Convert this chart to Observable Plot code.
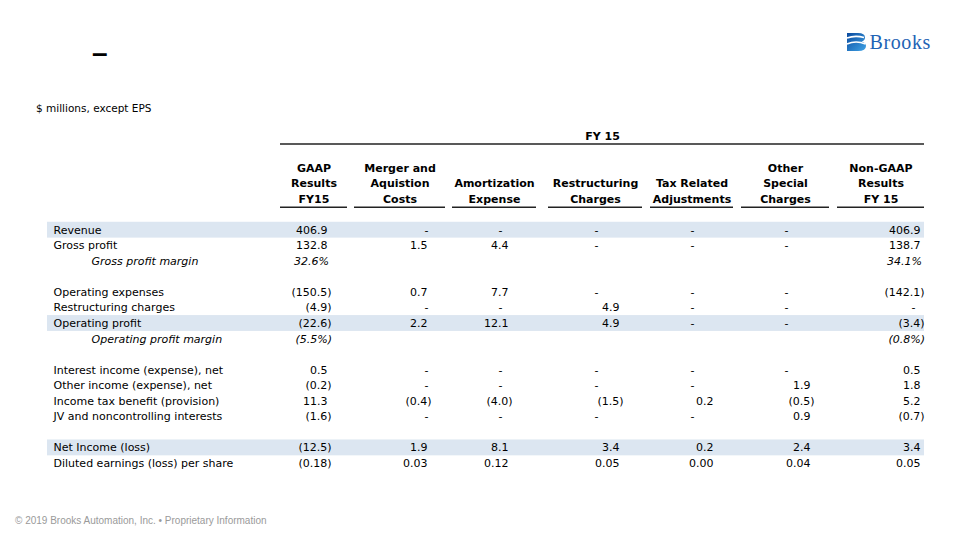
<!DOCTYPE html>
<html><head><meta charset="utf-8">
<script src="https://cdn.jsdelivr.net/npm/d3@7"></script>
<script src="https://cdn.jsdelivr.net/npm/@observablehq/plot@0.6"></script>
<style>
html,body{margin:0;padding:0;background:#fff;}
#page{position:relative;width:960px;height:540px;overflow:hidden;font-family:"DejaVu Sans",sans-serif;}
#chart{position:absolute;left:0;top:0;}
.title{position:absolute;left:92px;top:38px;font:bold 28px "Liberation Sans",Arial,sans-serif;color:#000;line-height:30px;}
.subtitle{position:absolute;left:36px;top:101px;font:10.5px "DejaVu Sans",sans-serif;color:#000;line-height:14px;}
.footer{position:absolute;left:15px;top:514px;font:10px "Liberation Sans",Arial,sans-serif;color:#9a9a9a;line-height:14px;}
.logo{position:absolute;left:846px;top:30px;}
</style></head>
<body><div id="page">
<div id="chart"></div>
<div class="title">–</div>
<div class="subtitle">$ millions, except EPS</div>
<div class="logo">
<svg width="90" height="24" viewBox="0 0 90 24">
<defs><linearGradient id="lg" x1="0" y1="0" x2="1" y2="1"><stop offset="0" stop-color="#0b4a9e"/><stop offset="1" stop-color="#3fa3e6"/></linearGradient></defs>
<path d="M1,3 H12 Q19,3 19,7.5 Q19,10.5 15.5,11.5 Q20,12.5 20,16 Q20,21 12,21 H1 Z" fill="url(#lg)"/>
<path d="M1,8 Q9,5 18,7.5" stroke="#fff" stroke-width="1.6" fill="none"/>
<path d="M1,14 Q10,10 19.5,14" stroke="#fff" stroke-width="1.6" fill="none"/>
<text x="23.5" y="18.5" font-family="Liberation Serif, serif" font-size="20" fill="#1e63b5" letter-spacing="0.6">Brooks</text>
</svg>
</div>
<div class="footer">© 2019 Brooks Automation, Inc. • Proprietary Information</div>
</div>
<script>
// ---- data ----
const periodLabel = "FY 15";
const colHeaders = [
  ["GAAP","Results","FY15"],
  ["Merger and","Aquistion","Costs"],
  ["Amortization","Expense"],
  ["Restructuring","Charges"],
  ["Tax Related","Adjustments"],
  ["Other","Special","Charges"],
  ["Non-GAAP","Results","FY 15"]
];
const rowLabels = [
  "Revenue","Gross profit","Operating expenses","Restructuring charges","Operating profit",
  "Interest income (expense), net","Other income (expense), net","Income tax benefit (provision)",
  "JV and noncontrolling interests","Net Income (loss)","Diluted earnings (loss) per share"
];
const gaap          = [406.9, 132.8, -150.5, -4.9, -22.6, 0.5, -0.2, 11.3, -1.6, -12.5, -0.18];
const merger        = [null, 1.5, 0.7, null, 2.2, null, null, -0.4, null, 1.9, 0.03];
const amortization  = [null, 4.4, 7.7, null, 12.1, null, null, -4.0, null, 8.1, 0.12];
const restructuring = [null, null, null, 4.9, 4.9, null, null, -1.5, null, 3.4, 0.05];
const taxRelated    = [null, null, null, null, null, null, null, 0.2, null, 0.2, 0.00];
const otherSpecial  = [null, null, null, null, null, null, 1.9, -0.5, 0.9, 2.4, 0.04];
const nonGaap       = [406.9, 138.7, -142.1, null, -3.4, 0.5, 1.8, 5.2, -0.7, 3.4, 0.05];
const marginLabels  = ["Gross profit margin","Operating profit margin"];
const gaapMargin    = [32.6, -5.5];
const nonGaapMargin = [34.1, -0.8];
const highlightRows = ["Revenue","Operating profit","Net Income (loss)"];
const epsRow = "Diluted earnings (loss) per share";

// ---- layout ----
const columns = [gaap, merger, amortization, restructuring, taxRelated, otherSpecial, nonGaap];
const rowOrder = ["Revenue","Gross profit","Gross profit margin",null,"Operating expenses","Restructuring charges",
  "Operating profit","Operating profit margin",null,"Interest income (expense), net","Other income (expense), net",
  "Income tax benefit (provision)","JV and noncontrolling interests",null,"Net Income (loss)","Diluted earnings (loss) per share"];
const firstRowSlot = 6;
const colLine  = [[280,347],[354,445],[452,536],[548,642],[650,733],[741,829],[837,924]];
const colRight = [327,427,508,619,713,810,920];
const dashX    = [null,426,500,596,692,786,913];
const slotOf = name => firstRowSlot + rowOrder.indexOf(name);

const fmt = (v, d) => v < 0 ? `(${Math.abs(v).toFixed(d)})` : v.toFixed(d);
const fmtPct = v => v < 0 ? `(${Math.abs(v).toFixed(1)}%)` : `${v.toFixed(1)}%`;

const cells = [];
rowLabels.forEach((r, i) => {
  columns.forEach((col, j) => {
    const v = col[i];
    cells.push({slot: slotOf(r), j, v, dash: v === null, text: v === null ? "-" : fmt(v, r === epsRow ? 2 : 1)});
  });
});
const marginCells = [];
marginLabels.forEach((m, i) => {
  marginCells.push({slot: slotOf(m), j: 0, v: gaapMargin[i], text: fmtPct(gaapMargin[i])});
  marginCells.push({slot: slotOf(m), j: 6, v: nonGaapMargin[i], text: fmtPct(nonGaapMargin[i])});
});
const headerCells = colHeaders.flatMap((lines, j) => lines.map((t, k) => ({t, j, slot: 4 - (lines.length - 1 - k)})));
const labelCells = rowLabels.map(r => ({t: r, slot: slotOf(r)}));
const marginLabelCells = marginLabels.map(m => ({t: m, slot: slotOf(m)}));
const bandCells = highlightRows.map(r => ({slot: slotOf(r)}));

const chart = Plot.plot({
  width: 960, height: 540,
  margin: 0,
  x: {type: "linear", domain: [0, 960], range: [0, 960], axis: null},
  y: {type: "linear", domain: [0, 21], range: [136.4, 136.4 + 15.55 * 21], axis: null},
  style: {fontFamily: "DejaVu Sans", fontSize: "11px", color: "#000", background: "transparent"},
  marks: [
    Plot.rect(bandCells, {x1: 47, x2: 924, y1: d => d.slot - 0.51, y2: d => d.slot + 0.51, fill: "#dce6f1"}),
    Plot.ruleY([0.46], {x1: colLine[0][0], x2: colLine[6][1], stroke: "#222", strokeWidth: 1.6}),
    Plot.ruleY(colLine, {y: 4.52, x1: d => d[0], x2: d => d[1], stroke: "#222", strokeWidth: 1.5}),
    Plot.text([periodLabel], {x: (colLine[0][0] + colLine[6][1]) / 2, y: 0, text: d => d, fontWeight: "bold", fill: "#000"}),
    Plot.text(headerCells, {x: d => (colLine[d.j][0] + colLine[d.j][1]) / 2, y: "slot", text: "t", fontWeight: "bold", fill: "#000"}),
    Plot.text(labelCells, {x: 53, y: "slot", text: "t", textAnchor: "start", fill: "#000"}),
    Plot.text(marginLabelCells, {x: 91, y: "slot", text: "t", textAnchor: "start", fontStyle: "italic", fill: "#000"}),
    Plot.text(cells.filter(d => !d.dash && d.v >= 0), {x: d => colRight[d.j], y: "slot", text: "text", textAnchor: "end", fill: "#000"}),
    Plot.text(cells.filter(d => !d.dash && d.v < 0), {x: d => colRight[d.j], y: "slot", text: "text", textAnchor: "end", dx: 4, fill: "#000"}),
    Plot.text(cells.filter(d => d.dash), {x: d => dashX[d.j], y: "slot", text: "text", textAnchor: "middle", fill: "#000"}),
    Plot.text(marginCells.filter(d => d.v >= 0), {x: d => colRight[d.j], y: "slot", text: "text", textAnchor: "end", dx: 1.5, fontStyle: "italic", fill: "#000"}),
    Plot.text(marginCells.filter(d => d.v < 0), {x: d => colRight[d.j], y: "slot", text: "text", textAnchor: "end", dx: 4.5, fontStyle: "italic", fill: "#000"})
  ]
});
document.getElementById("chart").appendChild(chart);
</script>
</body></html>
